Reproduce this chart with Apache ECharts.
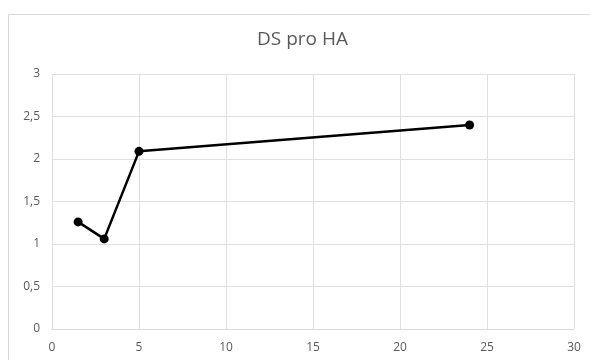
<!DOCTYPE html>
<html><head><meta charset="utf-8">
<script src="https://cdn.jsdelivr.net/npm/echarts@6/dist/echarts.min.js"></script>
<style>html,body{margin:0;padding:0;background:#fff}#c{width:590px;height:360px}</style>
</head><body><div id="c"></div>
<script>
const titleText = "DS pro HA";
const xValues = [1.5, 3, 5, 24];
const yValues = [1.26, 1.06, 2.09, 2.40];
const chart = echarts.init(document.getElementById('c'));
const font = '"Open Sans", "Liberation Sans", sans-serif';
chart.setOption({
  animation: false,
  backgroundColor: '#fff',
  graphic: [
    {type:'rect', shape:{x:8.5,y:14.5,width:600,height:400}, style:{fill:'none', stroke:'#d9d9d9', lineWidth:1}, silent:true},
    {type:'text', left: 305 - 48, top: 30, style:{text: titleText, fontFamily: font, fontSize: 19, fill:'#595959'}, silent:true}
  ],
  grid: {left: 52, right: 16, top: 74, bottom: 31},
  xAxis: {type:'value', min:0, max:30, interval:5,
    axisLine:{show:true, lineStyle:{color:'#d9d9d9'}}, axisTick:{show:false},
    splitLine:{show:true, lineStyle:{color:'#e0e0e0'}},
    axisLabel:{fontFamily: font, fontSize:12, color:'#595959', margin:13}},
  yAxis: {type:'value', min:0, max:3, interval:0.5,
    axisLine:{show:false}, axisTick:{show:false},
    splitLine:{show:true, lineStyle:{color:'#e0e0e0'}},
    axisLabel:{fontFamily: font, fontSize:12, color:'#595959', margin:12, formatter: v => String(v).replace('.', ',')}},
  series: [{type:'line', data: xValues.map((x,i)=>[x, yValues[i]]),
    symbol:'circle', symbolSize:9, itemStyle:{color:'#000'}, lineStyle:{color:'#000', width:2.5}}]
});
</script></body></html>
